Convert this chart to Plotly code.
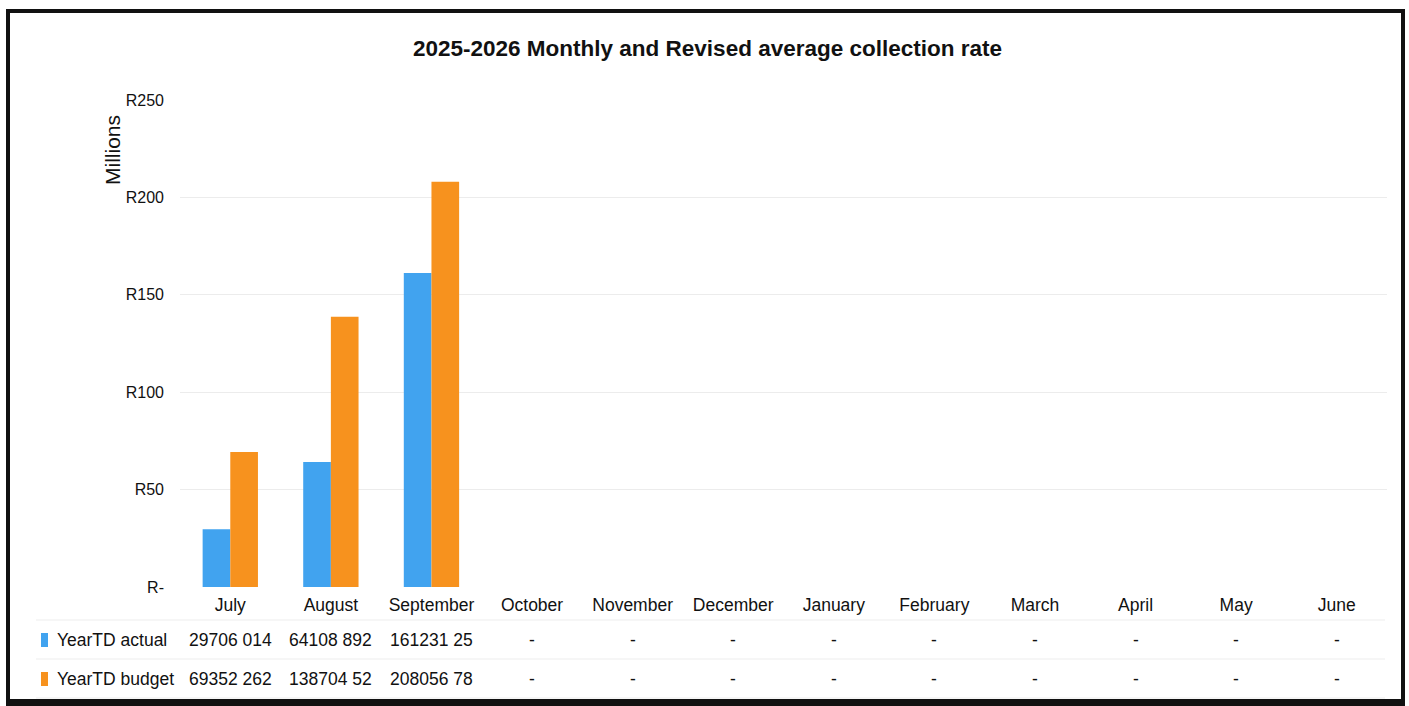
import plotly.graph_objects as go

# Months of the 2025-2026 financial year
months = ["July", "August", "September", "October", "November", "December",
          "January", "February", "March", "April", "May", "June"]

# Year-to-date collections in rand (None = not yet reported)
ytd_actual = [29706014, 64108892, 161231250, None, None, None,
              None, None, None, None, None, None]
ytd_budget = [69352262, 138704524, 208056786, None, None, None,
              None, None, None, None, None, None]

series_names = ["YearTD actual", "YearTD budget"]
y_ticks = [0, 50, 100, 150, 200, 250]
y_tick_labels = ["R-", "R50", "R100", "R150", "R200", "R250"]

title_text = "2025-2026 Monthly and Revised average collection rate"

BLUE = "#41A3EF"
ORANGE = "#F7921E"
FONT = "Liberation Sans, Arial, sans-serif"

W, H = 1409, 706
L, R, T, B = 180, 22, 100, 119
PW, PH = W - L - R, H - T - B


def px(x):
    return (x - L) / PW


def py(y):
    return (H - B - y) / PH


def cell_text(v):
    # spreadsheet-style cell: space before the last three digits, clipped to the cell width
    if v is None:
        return "-"
    s = str(int(v))
    s = s[:-3] + " " + s[-3:]
    return s[:9]


def millions(vals):
    return [None if v is None else v / 1e6 for v in vals]


fig = go.Figure()
fig.add_trace(go.Bar(x=months, y=millions(ytd_actual), name=series_names[0],
                     marker=dict(color=BLUE, line=dict(width=0))))
fig.add_trace(go.Bar(x=months, y=millions(ytd_budget), name=series_names[1],
                     marker=dict(color=ORANGE, line=dict(width=0))))

annotations = []
# data table below the category axis
row_y = [640, 679]
for vals, ry, name, col in zip([ytd_actual, ytd_budget], row_y, series_names, [BLUE, ORANGE]):
    for m, v in zip(months, vals):
        annotations.append(dict(x=m, xref="x", y=py(ry), yref="paper", text=cell_text(v),
                                showarrow=False, xanchor="center", yanchor="middle",
                                font=dict(family=FONT, size=17.5, color="#111")))
    annotations.append(dict(x=px(55), xref="paper", y=py(ry), yref="paper", text=name,
                            showarrow=False, xanchor="left", yanchor="middle",
                            font=dict(family=FONT, size=17.5, color="#111")))

annotations.append(dict(x=px(707), xref="paper", y=py(49), yref="paper", text="<b>" + title_text + "</b>",
                        showarrow=False, xanchor="center", yanchor="middle",
                        font=dict(family=FONT, size=22.5, color="#111")))
annotations.append(dict(x=px(112), xref="paper", y=py(150), yref="paper", text="Millions",
                        showarrow=False, textangle=-90, xanchor="center", yanchor="middle",
                        font=dict(family=FONT, size=21, color="#111")))

shapes = []
# legend keys of the data table
for ry, col in zip(row_y, [BLUE, ORANGE]):
    shapes.append(dict(type="rect", xref="paper", yref="paper",
                       x0=px(41), x1=px(48), y0=py(ry - 7), y1=py(ry + 7),
                       fillcolor=col, line=dict(width=0)))
# faint table rules
for ly in [620, 659, 698]:
    shapes.append(dict(type="line", xref="paper", yref="paper",
                       x0=px(36), x1=px(1385), y0=py(ly), y1=py(ly),
                       line=dict(color="#ededed", width=1)))
# outer frame
shapes.append(dict(type="rect", xref="paper", yref="paper",
                   x0=px(8), x1=px(1403), y0=py(11), y1=py(701),
                   line=dict(color="#111", width=4), fillcolor="rgba(0,0,0,0)"))
shapes.append(dict(type="line", xref="paper", yref="paper",
                   x0=px(6), x1=px(1405), y0=py(703), y1=py(703),
                   line=dict(color="#111", width=6)))

fig.update_layout(
    width=W, height=H,
    margin=dict(l=L, r=R, t=T, b=B, pad=0),
    paper_bgcolor="white", plot_bgcolor="white",
    barmode="group", bargap=0.45, bargroupgap=0,
    showlegend=False,
    annotations=annotations, shapes=shapes,
    xaxis=dict(showgrid=False, showline=False, zeroline=False, ticks="",
               tickfont=dict(family=FONT, size=17.5, color="#111"), ticklabelstandoff=5),
    yaxis=dict(range=[0, 250], tickvals=y_ticks, ticktext=y_tick_labels,
               showgrid=True, gridcolor="#ececec", gridwidth=1, zeroline=False,
               showline=False, ticks="", ticklabelstandoff=15,
               tickfont=dict(family=FONT, size=16, color="#111")),
)

fig.write_html("out.html")
